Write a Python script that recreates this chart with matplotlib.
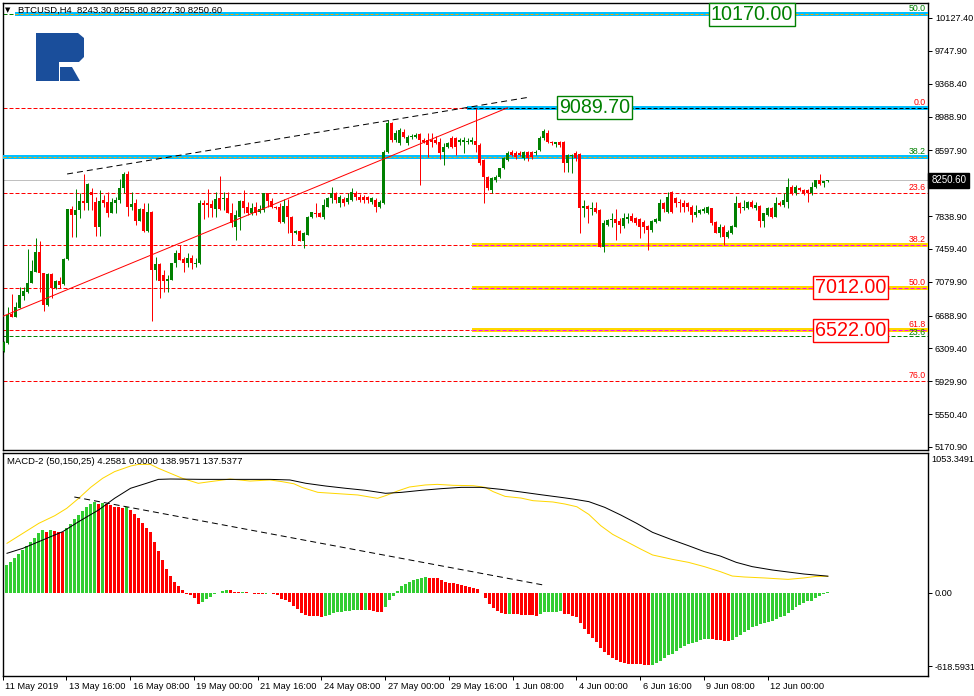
import matplotlib
matplotlib.use("Agg")
import matplotlib.pyplot as plt
import numpy as np
from matplotlib.patches import Polygon
from matplotlib.transforms import ScaledTranslation

# ---- price data (BTCUSD H4, 11 May - 14 Jun 2019) ----
opens = [6284, 6369, 6708, 6677, 6781, 6916, 6966, 7070, 7197, 7428,
         7178, 6812, 7170, 7004, 7093, 7054, 7339, 7921, 7852, 7909,
         8013, 7986, 8121, 8006, 7717, 8025, 8006, 7879, 7986, 8025,
         8160, 8325, 7948, 7986, 7786, 7921, 7671, 7890, 7216, 7285,
         7158, 7093, 7101, 7293, 7409, 7343, 7293, 7359, 7285, 7300,
         7994, 7986, 7975, 7921, 8052, 8036, 8052, 7879, 7717, 7832,
         8017, 7948, 7879, 7948, 7882, 7909, 8102, 8017, 7948, 7948,
         7767, 7956, 7832, 7640, 7667, 7551, 7621, 7825, 7879, 7879,
         7832, 7948, 8044, 8102, 7986, 8033, 8006, 8025, 8110, 8063,
         8056, 8063, 8006, 8025, 7940, 7986, 8583, 8910, 8718, 8679,
         8814, 8679, 8750, 8756, 8783, 8718, 8718, 8718, 8718, 8699,
         8583, 8641, 8737, 8737, 8699, 8699, 8690, 8699, 8710, 8660,
         8487, 8294, 8140, 8256, 8294, 8391, 8487, 8583, 8572, 8570,
         8506, 8575, 8575, 8564, 8602, 8737, 8795, 8699, 8675, 8690,
         8690, 8448, 8530, 8564, 8556, 7936, 7955, 7917, 7928, 7909,
         7485, 7736, 7794, 7801, 7782, 7724, 7801, 7840, 7813, 7809,
         7774, 7724, 7678, 7774, 7786, 7986, 7890, 8121, 8044, 8005,
         7986, 7986, 7947, 7851, 7870, 7901, 7870, 7928, 7774, 7647,
         7716, 7601, 7639, 7716, 7994, 7928, 7928, 8005, 7928, 7955,
         7786, 7851, 7928, 7832, 7994, 7967, 8005, 8178, 8102, 8167,
         8140, 8140, 8102, 8171, 8256, 8217, 8243.3]
highs = [6400, 6793, 6935, 6850, 7024, 7024, 7455, 7332, 7582, 7551,
         7186, 7178, 7178, 7100, 7139, 7351, 7925, 7959, 8152, 8102,
         8325, 8218, 8160, 8063, 8140, 8083, 8113, 8044, 8063, 8264,
         8352, 8364, 8113, 8033, 7929, 7986, 7986, 7898, 7370, 7293,
         7216, 7158, 7300, 7447, 7505, 7370, 7409, 7389, 7351, 8025,
         8025, 8152, 8025, 8113, 8306, 8121, 8121, 7986, 7909, 8025,
         8140, 8006, 7986, 8006, 7967, 8102, 8110, 8044, 7960, 7986,
         8033, 8033, 7840, 7680, 7680, 7650, 7840, 7890, 7986, 7890,
         8033, 8060, 8170, 8121, 8083, 8063, 8102, 8160, 8130, 8090,
         8083, 8070, 8060, 8044, 8025, 8602, 8949, 8930, 8833, 8860,
         8840, 8770, 8790, 8800, 8800, 8740, 8795, 8795, 8760, 8737,
         8679, 8700, 8760, 8750, 8740, 8756, 8740, 8756, 9089.7, 8680,
         8495, 8300, 8290, 8310, 8400, 8520, 8590, 8600, 8590, 8590,
         8590, 8590, 8590, 8600, 8760, 8840, 8830, 8710, 8700, 8710,
         8710, 8560, 8560, 8590, 8564, 8025, 7967, 8005, 8005, 7920,
         7794, 7800, 7870, 7917, 7813, 7870, 7870, 7870, 7830, 7820,
         7790, 7740, 7790, 7820, 8036, 8005, 8121, 8128, 8063, 8032,
         8025, 8005, 7967, 7967, 7920, 7947, 7950, 7930, 7780, 7747,
         7730, 7678, 7730, 8071, 8005, 8025, 8010, 8020, 8005, 7967,
         7878, 7940, 7947, 8063, 8010, 8102, 8275, 8198, 8198, 8180,
         8148, 8148, 8236, 8260, 8325, 8248, 8255.8]
lows = [6265, 6360, 6670, 6670, 6775, 6870, 6955, 7062, 7190, 6966,
        6746, 6805, 6889, 6995, 7004, 7047, 7335, 7601, 7601, 7813,
        7909, 7909, 7909, 7609, 7609, 7948, 7832, 7871, 7871, 7986,
        8102, 7840, 7909, 7736, 7780, 7659, 7659, 6627, 7101, 6889,
        6966, 6966, 7095, 7255, 7332, 7197, 7255, 7224, 7255, 7285,
        7802, 7832, 7832, 7832, 7909, 7909, 7871, 7717, 7563, 7678,
        7871, 7852, 7852, 7852, 7871, 7890, 7948, 7929, 7920, 7755,
        7755, 7640, 7505, 7630, 7551, 7466, 7615, 7815, 7825, 7830,
        7802, 7940, 7986, 7990, 7948, 7960, 7980, 8010, 8030, 8000,
        7990, 7986, 7980, 7890, 7930, 7979, 8564, 8699, 8699, 8660,
        8740, 8660, 8730, 8740, 8198, 8680, 8525, 8641, 8670, 8500,
        8429, 8620, 8630, 8545, 8660, 8564, 8670, 8670, 8583, 8430,
        7986, 8140, 8102, 8230, 8280, 8380, 8470, 8530, 8500, 8530,
        8490, 8480, 8500, 8550, 8590, 8720, 8680, 8660, 8640, 8640,
        8352, 8352, 8340, 8470, 7639, 7832, 7755, 7851, 7870, 7480,
        7428, 7720, 7716, 7562, 7639, 7697, 7755, 7770, 7740, 7582,
        7639, 7447, 7660, 7760, 7780, 7890, 7870, 7870, 7940, 7890,
        7890, 7900, 7774, 7832, 7860, 7870, 7860, 7736, 7640, 7601,
        7505, 7582, 7630, 7709, 7878, 7909, 7920, 7930, 7909, 7716,
        7716, 7840, 7813, 7830, 7960, 7947, 7928, 8082, 8082, 8130,
        8082, 8005, 8082, 8160, 8198, 8171, 8227.3]
closes = [6388, 6696, 6677, 6793, 6927, 6974, 7062, 7205, 7428, 7178,
          6812, 7170, 7004, 7093, 7043, 7343, 7921, 7852, 7909, 8013,
          7994, 8210, 8083, 7717, 8013, 7986, 7871, 8006, 8025, 8167,
          8325, 7948, 7979, 7786, 7921, 7671, 7890, 7216, 7285, 7093,
          7093, 7116, 7293, 7409, 7332, 7293, 7351, 7293, 7300, 7994,
          7967, 7967, 7936, 8036, 7921, 8052, 7879, 7763, 7852, 8017,
          7929, 7879, 7936, 7871, 7921, 8102, 8017, 7948, 7929, 7767,
          7959, 7832, 7640, 7671, 7551, 7640, 7832, 7882, 7863, 7832,
          7967, 8052, 8102, 8025, 8063, 7986, 8044, 8121, 8063, 8025,
          8025, 8025, 8044, 7948, 8006, 8583, 8910, 8718, 8795, 8833,
          8756, 8756, 8766, 8780, 8718, 8699, 8660, 8699, 8679, 8564,
          8641, 8679, 8641, 8641, 8718, 8718, 8710, 8713, 8660, 8448,
          8294, 8160, 8275, 8294, 8391, 8506, 8572, 8545, 8525, 8545,
          8575, 8506, 8525, 8583, 8737, 8825, 8699, 8679, 8690, 8660,
          8448, 8545, 8545, 8506, 7928, 7955, 7917, 7936, 7890, 7485,
          7755, 7794, 7801, 7755, 7736, 7813, 7832, 7786, 7755, 7716,
          7716, 7678, 7786, 7801, 7986, 7917, 8063, 7890, 7986, 7986,
          7940, 7947, 7851, 7890, 7909, 7917, 7940, 7755, 7647, 7716,
          7601, 7659, 7724, 7986, 7928, 7947, 8005, 7947, 7967, 7786,
          7870, 7928, 7832, 7986, 7967, 8025, 8178, 8102, 8178, 8140,
          8102, 8102, 8178, 8256, 8209, 8244, 8250.6]

price_ticks = [10127.40, 9747.90, 9368.40, 8988.90, 8597.90, 7838.90,
               7459.40, 7079.90, 6688.90, 6309.40, 5929.90, 5550.40, 5170.90]
time_bars = [0, 16, 32, 48, 64, 80, 96, 112, 128, 144, 160, 176, 192]
time_labels = ["11 May 2019", "13 May 16:00", "16 May 08:00", "19 May 00:00",
               "21 May 16:00", "24 May 08:00", "27 May 00:00", "29 May 16:00",
               "1 Jun 08:00", "4 Jun 00:00", "6 Jun 16:00", "9 Jun 08:00",
               "12 Jun 00:00"]

# fibonacci retracement (red) from 9089.70, 100% at 4934.3
fib_red_names = ["0.0", "23.6", "38.2", "50.0", "61.8", "76.0"]
fib_red_prices = [9089.7, 8109.0, 7502.3, 7012.0, 6522.0, 5931.6]
# second fibo (green)
fib_green_names = ["50.0", "38.2", "23.6"]
fib_green_prices = [10170.0, 8518.0, 6458.0]
bid = 8250.60

# trend lines (bar index, price)
red_trend = ([0, 126], [6684, 9089.7])
black_trend = ([15.9, 131.6], [8325, 9214])

# ---- MACD-2 (50,150,25) ----
macd_hist = [232, 260, 289, 322, 359, 395, 423, 457, 504, 524,
             513, 524, 515, 513, 511, 541, 577, 619, 653, 686,
             717, 748, 759, 748, 756, 748, 737, 723, 716, 714,
             723, 695, 661, 625, 583, 541, 507, 429, 350, 275,
             199, 143, 93, 59, 23, -14, -20, -48, -98, -76,
             -53, -34, -14, -2, 14, 25, 22, 8, 6, 7,
             3, -6, -8, -12, -14, -8, -6, -11, -20, -53,
             -62, -76, -109, -137, -168, -188, -194, -196, -198, -202,
             -193, -188, -168, -162, -160, -152, -150, -147, -145, -146,
             -145, -147, -154, -158, -160, -118, -62, -25, 14, 56,
             73, 93, 107, 119, 121, 132, 122, 121, 120, 107,
             90, 82, 81, 73, 65, 56, 48, 37, 31, -6,
             -42, -95, -126, -154, -171, -179, -178, -179, -180, -185,
             -187, -188, -189, -193, -176, -162, -161, -160, -158, -154,
             -176, -182, -193, -204, -252, -302, -344, -378, -411, -462,
             -495, -524, -546, -563, -580, -594, -598, -600, -601, -603,
             -605, -607, -605, -594, -572, -552, -524, -513, -488, -462,
             -445, -431, -426, -411, -400, -392, -386, -387, -395, -396,
             -403, -404, -400, -369, -353, -327, -311, -291, -277, -266,
             -258, -249, -238, -221, -207, -193, -168, -146, -123, -107,
             -90, -73, -67, -42, -25, -14, 4.2581]
signal_bars = [0, 4, 8, 12, 15, 18, 21, 24, 27, 31, 33, 36, 38, 41, 44, 48, 51, 56, 61, 66,
               69, 72, 74, 78, 83, 88, 91, 93, 95, 98, 101, 105, 108, 112, 117, 120, 122, 125, 129, 132,
               137, 140, 143, 146, 149, 152, 156, 159, 162, 167, 171, 175, 179, 182, 185, 190, 196, 200, 203, 206]
signal_vals = [415, 499, 583, 647, 709, 793, 885, 961, 1017, 1064, 1078, 1078, 1045, 1003, 961, 919, 933, 955, 938, 947,
               933, 915, 885, 843, 832, 821, 804, 793, 815, 854, 888, 905, 910, 902, 899, 885, 849, 809, 795, 773,
               762, 745, 722, 658, 563, 490, 420, 367, 317, 280, 255, 219, 177, 140, 132, 124, 112, 124, 137, 137.5377]
main_bars = [0, 4, 9, 14, 18, 23, 27, 31, 35, 38, 41, 49, 58, 66, 71, 75, 80, 85, 90, 95,
             99, 104, 109, 114, 119, 124, 129, 134, 139, 142, 146, 150, 154, 158, 162, 167, 171, 175, 179, 183,
             187, 192, 196, 200, 206]
main_vals = [331, 373, 443, 513, 597, 695, 793, 877, 919, 952, 955, 952, 952, 952, 947, 919, 896, 877, 860, 835,
             843, 860, 874, 885, 885, 868, 846, 823, 801, 787, 765, 717, 653, 583, 507, 443, 395, 345, 308, 255,
             219, 191, 174, 157, 138.9571]
macd_trend = ([16.9, 134.6], [804, 64.7])

# ---- figure ----
W, H = 974, 696
plt.rcParams["font.family"] = ["Liberation Sans", "DejaVu Sans"]

fig = plt.figure(figsize=(W / 100, H / 100), dpi=100)


def box(x0, y0, x1, y1):
    return [x0 / W, 1 - y1 / H, (x1 - x0) / W, (y1 - y0) / H]


ax = fig.add_axes(box(2.5, 3, 928, 450))
ax2 = fig.add_axes(box(2.5, 452.5, 928, 675.5))
xlim = (-0.25, 231.125)
GREEN, RED, BLUE = "#008000", "#FF0000", "#00BFFF"
px = 0.72  # one pixel in points

# candles
o, h, l, c = (np.array(a, float) for a in (opens, highs, lows, closes))
idx = np.arange(len(o))
cols = np.where(c >= o, GREEN, RED)
ax.vlines(idx, l, h, colors=cols, lw=px, zorder=4)
ax.bar(idx, np.maximum(np.abs(c - o), 11.5), bottom=np.minimum(o, c), width=0.75,
       color=cols, lw=0, zorder=4)

# horizontal levels
x_end = xlim[1]
ax.axhline(bid, color="#C0C0C0", lw=px, zorder=2)
for name, p in zip(fib_red_names, fib_red_prices):
    if name in ("38.2", "50.0", "61.8"):
        ax.plot([xlim[0], 117], [p, p], color=RED, lw=px, dashes=(4, 2), zorder=2)
        ax.plot([117, x_end], [p, p], color="#FFD700", lw=4 * px, solid_capstyle="butt", zorder=3)
        ax.plot([117, x_end], [p, p], color="#FF00FF", lw=px, dashes=(4, 2), zorder=3)
    elif name == "0.0":
        ax.plot([xlim[0], 115.9], [p, p], color=RED, lw=px, dashes=(4, 2), zorder=2)
        ax.plot([115.9, x_end], [p, p], color=BLUE, lw=4 * px, solid_capstyle="butt", zorder=3)
        ax.plot([115.9, x_end], [p, p], color="black", lw=px, dashes=(4, 2), zorder=3)
    else:
        ax.plot([xlim[0], x_end], [p, p], color=RED, lw=px, dashes=(4, 2), zorder=2)
    ax.annotate(name, (230.6, p), xytext=(0, 1), textcoords="offset pixels",
                ha="right", va="bottom", color=RED, fontsize=6.3, zorder=6)
for name, p in zip(fib_green_names, fib_green_prices):
    if name == "23.6":
        ax.plot([xlim[0], x_end], [p, p], color=GREEN, lw=px, dashes=(4, 2), zorder=2)
    else:
        start = 2.9 if name == "50.0" else xlim[0]
        ax.plot([xlim[0], start], [p, p], color=GREEN, lw=px, dashes=(4, 2), zorder=2)
        ax.plot([start, x_end], [p, p], color=BLUE, lw=4 * px, solid_capstyle="butt", zorder=3)
        ax.plot([start, x_end], [p, p], color="#FFA500", lw=px, dashes=(3, 2), zorder=3)
    # the green 23.6 tag sits just under the red 61.8 tag
    dy = -1.5 if name == "23.6" else 1
    ax.annotate(name, (230.6, p), xytext=(0, dy), textcoords="offset pixels",
                ha="right", va="bottom", color=GREEN, fontsize=6.3, zorder=6)

# trend lines
ax.plot(*red_trend, color=RED, lw=px, zorder=5)
ax.plot(*black_trend, color="black", lw=px, dashes=(6, 4), zorder=5)

# price tags
for txt, xb, p, col in [("10170.00", 187.1, 10170.0, GREEN), ("9089.70", 147.75, 9089.7, GREEN),
                        ("7012.00", 211.75, 7012.0, RED), ("6522.00", 211.75, 6522.0, RED)]:
    ax.text(xb, p, txt, ha="center", va="center", color=col, fontsize=14.2,
            bbox=dict(boxstyle="square,pad=0.1", fc="white", ec=col, lw=1.0), zorder=7)

ax.set_xlim(*xlim)
ax.set_ylim(5136.1, 10300.7)
ax.set_xticks([])
ax.yaxis.tick_right()
ax.set_yticks(price_ticks)
ax.set_yticklabels([f"{v:.2f}" for v in price_ticks])
ax.tick_params(axis="y", length=3, width=px, labelsize=6.6, pad=2)
ax.text(1.0035, bid, f"{bid:.2f}", transform=ax.get_yaxis_transform(), ha="left", va="center",
        color="white", fontsize=7.0, clip_on=False, zorder=8,
        bbox=dict(boxstyle="square,pad=0.3", fc="black", ec="black"))

# MACD panel
hv = np.array(macd_hist, float)
hcols = np.where(np.diff(np.r_[hv[0], hv]) >= 0, "#32CD32", RED)
ax2.bar(np.arange(len(hv)), hv, width=0.75, color=hcols, lw=0, zorder=2)
ax2.plot(signal_bars, signal_vals, color="#FFD700", lw=px, zorder=3)
ax2.plot(main_bars, main_vals, color="black", lw=px, zorder=4)
ax2.plot(*macd_trend, color="black", lw=px, dashes=(6, 4), zorder=4)
ax2.set_xlim(*xlim)
ax2.set_ylim(-695.5, 1177.7)
ax2.yaxis.tick_right()
ax2.set_yticks([0, -618.5931])
ax2.set_yticklabels(["0.00", "-618.5931"])
ax2.tick_params(axis="y", length=3, width=px, labelsize=6.6, pad=2)
fig.text(931.5 / W, 1 - 459 / H, "1053.3491", fontsize=6.6, va="center", ha="left")

ax2.set_xticks(np.array(time_bars) - 1.125)
ax2.set_xticklabels(time_labels)
ax2.tick_params(axis="x", length=3, width=px, labelsize=6.7, pad=2)
shift = ScaledTranslation(2.5 / 100, 0, fig.dpi_scale_trans)
for lab in ax2.get_xticklabels():
    lab.set_ha("left")
    lab.set_transform(lab.get_transform() + shift)

for a in (ax, ax2):
    for s in a.spines.values():
        s.set_linewidth(1.0)

# headers
fig.text(8 / W, 1 - 10 / H, "\u25bc", fontsize=5, ha="center", va="center", family="DejaVu Sans")
fig.text(18 / W, 1 - 10 / H, "BTCUSD,H4  8243.30 8255.80 8227.30 8250.60", fontsize=6.8,
         ha="left", va="center")
fig.text(7 / W, 1 - 461 / H, "MACD-2 (50,150,25) 4.2581 0.0000 138.9571 137.5377", fontsize=6.8,
         ha="left", va="center")

# logo
logo = [(36, 33), (78, 33), (84, 38), (84, 57), (79, 62), (59, 62), (59, 81), (36, 81)]
leg = [(60, 67), (72, 67), (80, 81), (60, 81)]
for shape in (logo, leg):
    fig.add_artist(Polygon([(x / W, 1 - y / H) for x, y in shape], closed=True,
                           transform=fig.transFigure, fc="#1A4E9B", ec="none"))

fig.savefig("out.png", dpi=100)
